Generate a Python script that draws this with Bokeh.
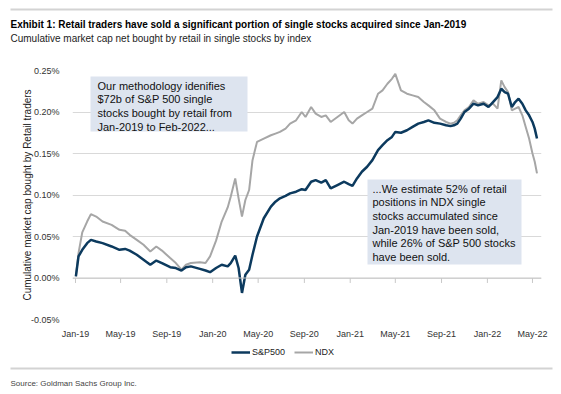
import pandas as pd
from bokeh.plotting import figure
from bokeh.layouts import column
from bokeh.models import (ColumnDataSource, Range1d, FixedTicker, DatetimeTickFormatter,
                          NumeralTickFormatter, Label, BoxAnnotation, Legend, LegendItem, Span)
from bokeh.embed import file_html
from bokeh.resources import INLINE

# ---------------- data (values in %) ----------------
dates = [
    "2019-01-02", "2019-01-09", "2019-01-19", "2019-02-01", "2019-02-11", "2019-02-25",
    "2019-03-14", "2019-04-07", "2019-04-28", "2019-05-13", "2019-05-25", "2019-06-13",
    "2019-07-01", "2019-07-19", "2019-08-04", "2019-08-19", "2019-09-10", "2019-09-25",
    "2019-10-10", "2019-10-22", "2019-11-04", "2019-11-28", "2019-12-13", "2019-12-25",
    "2020-01-10", "2020-01-25", "2020-02-10", "2020-02-18", "2020-03-01", "2020-03-10",
    "2020-03-19", "2020-03-28", "2020-04-07", "2020-04-16", "2020-04-28", "2020-05-16",
    "2020-06-04", "2020-06-16", "2020-06-28", "2020-07-13", "2020-07-25", "2020-08-10",
    "2020-08-25", "2020-09-04", "2020-09-19", "2020-10-01", "2020-10-16", "2020-10-28",
    "2020-11-10", "2020-11-28", "2020-12-16", "2020-12-28", "2021-01-07", "2021-01-19",
    "2021-02-01", "2021-02-15", "2021-03-01", "2021-03-16", "2021-03-28", "2021-04-10",
    "2021-04-22", "2021-05-01", "2021-05-16", "2021-06-01", "2021-06-16", "2021-07-01",
    "2021-07-16", "2021-07-28", "2021-08-13", "2021-08-28", "2021-09-13", "2021-09-25",
    "2021-10-04", "2021-10-13", "2021-10-22", "2021-11-01", "2021-11-13", "2021-11-25",
    "2021-12-07", "2021-12-22", "2022-01-04", "2022-01-16", "2022-01-28", "2022-02-07",
    "2022-02-16", "2022-02-25", "2022-03-07", "2022-03-16", "2022-03-25", "2022-04-04",
    "2022-04-13", "2022-04-22", "2022-05-01", "2022-05-07", "2022-05-13",
]
sp500 = [
    0.002, 0.026, 0.034, 0.042, 0.046, 0.044,
    0.042, 0.038, 0.034, 0.035, 0.033, 0.028,
    0.022, 0.016, 0.021, 0.018, 0.013, 0.012,
    0.009, 0.013, 0.014, 0.011, 0.009, 0.007,
    0.012, 0.016, 0.014, 0.018, 0.027, 0.012,
    -0.018, 0.004, 0.010, 0.028, 0.050, 0.072,
    0.086, 0.092, 0.096, 0.099, 0.102, 0.104,
    0.107, 0.106, 0.116, 0.118, 0.115, 0.118,
    0.108, 0.112, 0.116, 0.113, 0.111, 0.120,
    0.128, 0.134, 0.142, 0.154, 0.160, 0.166,
    0.170, 0.176, 0.175, 0.178, 0.182, 0.186,
    0.188, 0.190, 0.187, 0.186, 0.184, 0.183,
    0.184, 0.186, 0.192, 0.200, 0.204, 0.210,
    0.208, 0.210, 0.206, 0.212, 0.218, 0.228,
    0.224, 0.222, 0.206, 0.212, 0.216, 0.210,
    0.202, 0.196, 0.188, 0.180, 0.168,
]
ndx = [
    0.002, 0.030, 0.055, 0.068, 0.077, 0.074,
    0.068, 0.064, 0.058, 0.057, 0.052, 0.046,
    0.040, 0.032, 0.038, 0.033, 0.024, 0.018,
    0.010, 0.016, 0.018, 0.019, 0.018, 0.026,
    0.045, 0.068, 0.085, 0.098, 0.120, 0.096,
    0.074, 0.094, 0.106, 0.142, 0.164, 0.168,
    0.172, 0.174, 0.176, 0.180, 0.186, 0.190,
    0.200, 0.194, 0.206, 0.198, 0.194, 0.196,
    0.188, 0.194, 0.200, 0.190, 0.186, 0.192,
    0.196, 0.200, 0.204, 0.222, 0.226, 0.234,
    0.240, 0.246, 0.226, 0.222, 0.220, 0.218,
    0.212, 0.208, 0.202, 0.192, 0.188, 0.186,
    0.187, 0.190, 0.196, 0.202, 0.206, 0.214,
    0.210, 0.212, 0.208, 0.210, 0.204, 0.238,
    0.230, 0.224, 0.202, 0.204, 0.206, 0.196,
    0.182, 0.168, 0.150, 0.140, 0.126,
]
tick_dates = ["2019-01-01", "2019-05-01", "2019-09-01", "2020-01-01", "2020-05-01",
              "2020-09-01", "2021-01-01", "2021-05-01", "2021-09-01", "2022-01-01",
              "2022-05-01"]
y_ticks = [-0.05, 0.00, 0.05, 0.10, 0.15, 0.20, 0.25]
series_names = ["S&P500", "NDX"]

title_text = "Exhibit 1: Retail traders have sold a significant portion of single stocks acquired since Jan-2019"
subtitle_text = "Cumulative market cap net bought by retail in single stocks by index"
source_text = "Source: Goldman Sachs Group Inc."
ylabel_text = "Cumulative market cap bought by Retail traders"
note1 = "Our methodology idenifies\n$72b of S&P 500 single\nstocks bought by retail from\nJan-2019 to Feb-2022..."
note2 = ("...We estimate 52% of retail\npositions in NDX single\nstocks accumulated since\n"
         "Jan-2019 have been sold,\nwhile 26% of S&P 500 stocks\nhave been sold.")

# ---------------- style ----------------
FONT = "Liberation Sans"
SP_COLOR = "#0c3a5e"
NDX_COLOR = "#a6a6a6"
W = 561


def blank_fig(h):
    f = figure(width=W, height=h, output_backend="svg", toolbar_location=None,
               x_range=Range1d(0, W), y_range=Range1d(0, h),
               x_axis_location=None, y_axis_location=None, title_location=None,
               min_border=0)
    f.frame_align = False
    f.outline_line_color = None
    f.grid.visible = False
    f.background_fill_color = "white"
    f.border_fill_color = "white"
    return f


# ---------------- header ----------------
HEAD_H = 64
head = blank_fig(HEAD_H)
head.add_layout(BoxAnnotation(left=10, right=552, bottom=HEAD_H - 10, top=HEAD_H - 8,
                              fill_color="#d3d3d3", fill_alpha=1, line_color=None))
head.add_layout(Label(x=10, y=HEAD_H - 24, text=title_text, text_baseline="middle",
                      text_font=FONT, text_font_style="bold", text_font_size="10px",
                      text_color="#000000"))
head.add_layout(Label(x=10, y=HEAD_H - 38, text=subtitle_text, text_baseline="middle",
                      text_font=FONT, text_font_size="10px", text_color="#222222"))

# ---------------- main chart ----------------
src = ColumnDataSource(dict(
    x=pd.to_datetime(dates),
    sp=[v / 100 for v in sp500],
    nd=[v / 100 for v in ndx],
))

p = figure(width=W, height=277, output_backend="svg", toolbar_location=None,
           x_axis_type="datetime", title_location=None,
           x_range=Range1d(pd.Timestamp("2018-12-24"), pd.Timestamp("2022-05-25")),
           y_range=Range1d(-0.0005, 0.0025))
p.frame_align = False
p.min_border_left = 72
p.min_border_right = 20
p.min_border_top = 6
p.min_border_bottom = 20
p.outline_line_color = None
p.background_fill_color = "white"
p.border_fill_color = "white"

tick_ms = [pd.Timestamp(d).value / 1e6 for d in tick_dates]
p.xaxis.ticker = FixedTicker(ticks=tick_ms)
fmt = "%b-%y"
p.xaxis.formatter = DatetimeTickFormatter(days=fmt, months=fmt, years=fmt)
p.yaxis.ticker = FixedTicker(ticks=[v / 100 for v in y_ticks])
p.yaxis.formatter = NumeralTickFormatter(format="0.00%")
for ax in (p.xaxis[0], p.yaxis[0]):
    ax.axis_line_color = None
    ax.major_tick_line_color = None
    ax.minor_tick_line_color = None
    ax.major_label_text_font = FONT
    ax.major_label_text_font_size = "9px"
    ax.major_label_text_color = "#333333"
p.xaxis.major_label_standoff = 3
p.yaxis.major_label_standoff = 7
p.yaxis.axis_label = ylabel_text
p.yaxis.axis_label_text_font = FONT
p.yaxis.axis_label_text_font_size = "10px"
p.yaxis.axis_label_text_font_style = "normal"
p.yaxis.axis_label_text_color = "#222222"
p.yaxis.axis_label_standoff = -5

p.xgrid.grid_line_color = None
p.ygrid.grid_line_color = "#d9d9d9"
p.ygrid.grid_line_width = 1
p.add_layout(Span(location=0, dimension="width", line_color="#c8c8c8", line_width=1))
# small category-axis tick marks hanging below the zero line
p.segment(x0=tick_ms, x1=tick_ms, y0=[0.0] * len(tick_ms), y1=[-0.00006] * len(tick_ms),
          line_color="#c8c8c8", line_width=1)

r_nd = p.line("x", "nd", source=src, line_color=NDX_COLOR, line_width=2)
r_sp = p.line("x", "sp", source=src, line_color=SP_COLOR, line_width=2.5)

p.add_layout(BoxAnnotation(left=18, right=175, bottom=188, top=243,
                           left_units="screen", right_units="screen",
                           bottom_units="screen", top_units="screen",
                           fill_color="#dde4ef", fill_alpha=1, line_color=None))
p.add_layout(BoxAnnotation(left=295, right=449, bottom=55, top=140,
                           left_units="screen", right_units="screen",
                           bottom_units="screen", top_units="screen",
                           fill_color="#dde4ef", fill_alpha=1, line_color=None))
p.add_layout(Label(x=25, y=240, x_units="screen", y_units="screen", text=note1,
                   text_baseline="top", text_align="left", text_font=FONT,
                   text_font_size="11px", text_line_height=1.14, text_color="#111111"))
p.add_layout(Label(x=300, y=137, x_units="screen", y_units="screen", text=note2,
                   text_baseline="top", text_align="left", text_font=FONT,
                   text_font_size="11px", text_line_height=1.14, text_color="#111111"))

# ---------------- footer: legend + source ----------------
FOOT_H = 51
foot = blank_fig(FOOT_H)
# legend-only renderers (kept outside the visible range)
l_sp = foot.line(x=[0, 1], y=[-100, -100], line_color=SP_COLOR, line_width=2.5)
l_nd = foot.line(x=[0, 1], y=[-100, -100], line_color=NDX_COLOR, line_width=2)
legend = Legend(items=[LegendItem(label=series_names[0], renderers=[l_sp]),
                       LegendItem(label=series_names[1], renderers=[l_nd])],
                orientation="horizontal", location=(231, FOOT_H - 17),
                glyph_width=19, glyph_height=12, label_height=12, label_standoff=2,
                spacing=9, padding=0, margin=0, border_line_color=None,
                background_fill_alpha=0, label_text_font=FONT,
                label_text_font_size="9px", label_text_color="#222222")
foot.add_layout(legend)
foot.add_layout(BoxAnnotation(left=10, right=552, bottom=FOOT_H - 28, top=FOOT_H - 26,
                              fill_color="#d3d3d3", fill_alpha=1, line_color=None))
foot.add_layout(Label(x=10, y=FOOT_H - 42, text=source_text, text_baseline="middle",
                      text_font=FONT, text_font_size="8px", text_color="#444444"))

layout = column(head, p, foot, spacing=0)
open("out.html", "w").write(file_html(layout, INLINE))
